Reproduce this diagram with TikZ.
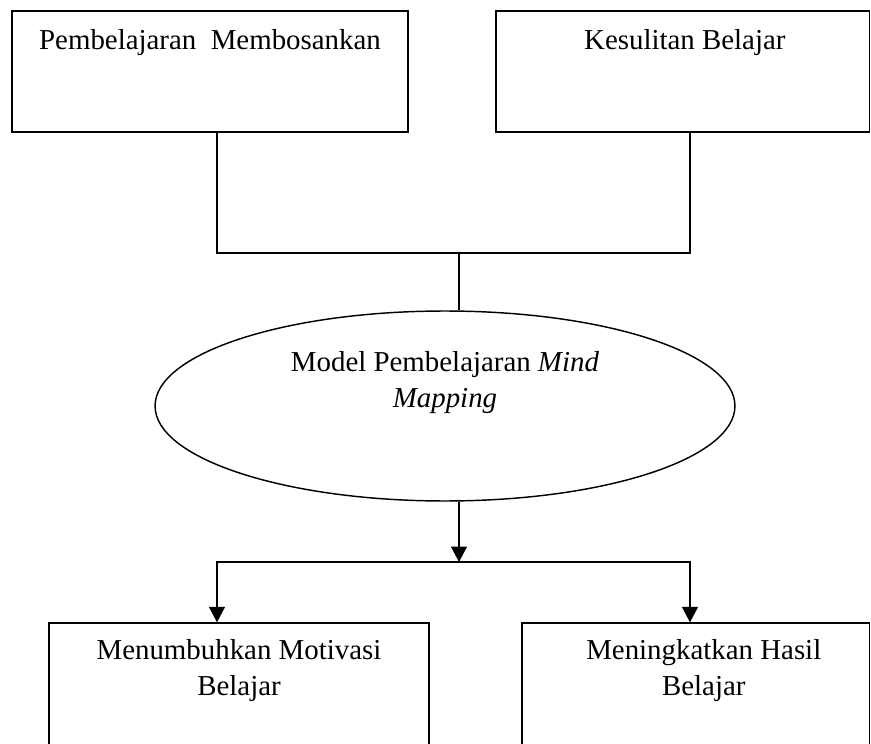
\documentclass[tikz,border=0pt]{standalone}
\usepackage{fontspec}
\setmainfont{Liberation Serif}
\usepackage{tikz}
\usetikzlibrary{arrows.meta,positioning,shapes.geometric}
\tikzstyle{kotak} = [rectangle, draw=black, line width=0.6pt, minimum height=1.767cm, inner sep=0pt]
\tikzstyle{elips} = [ellipse, draw=black, line width=0.6pt, minimum width=8.468cm, minimum height=2.774cm, inner sep=0pt]
\tikzstyle{teks}  = [align=center, inner sep=0pt, font=\fontsize{12pt}{14.9pt}\selectfont]
\tikzstyle{garis} = [black, line width=0.5pt]
\tikzstyle{panah} = [black, line width=0.6pt, -{Triangle[width=6.6pt,length=6.4pt]}]

\begin{document}
\begin{tikzpicture}[x=0.0146cm, y=-0.0146cm]
		\useasboundingbox (0,0) rectangle (871,744);

		% kotak dan elips
		\node[kotak, minimum width=5.782cm] (boring) at (210,71.5) {};
		\node[kotak, minimum width=5.453cm] (difficulty) at (682.75,71.5) {};
		\node[elips] (model) at (445,406) {};
		\node[kotak, minimum width=5.548cm, minimum height=2cm] (motivation) at (239,691.5) {};
		\node[kotak, minimum width=5.074cm, minimum height=2cm] (result) at (695.75,691.5) {};

		% teks
		\node[teks, below=0.277cm of boring.north] (tboring) {Pembelajaran\ \ Membosankan};
		\node[teks, below=0.277cm of difficulty.north, xshift=0.03cm] (tdifficulty) {Kesulitan Belajar};
		\node[teks, below=0.599cm of model.north] (tmodel) {Model Pembelajaran \textit{Mind}\\ \textit{Mapping}};
		\node[teks, below=0.248cm of motivation.north] (tmotivation) {Menumbuhkan Motivasi\\ Belajar};
		\node[teks, below=0.248cm of result.north, xshift=0.117cm] (tresult) {Meningkatkan Hasil\\ Belajar};

		% titik sambung
		\coordinate (j1) at (217,253);
		\coordinate (j2) at (690,253);
		\coordinate (j3) at (459,253);
		\coordinate (s) at (459,562);

		\draw[garis] (boring.south -| j1) -- (j1) -- (j2) -- (difficulty.south -| j2);
		\draw[garis] (j3) -- (model.north -| j3);
		\draw[panah] (model.south -| s) -- (s);
		\draw[panah] (s) -| (motivation.north -| j1);
		\draw[panah] (s) -| (result.north -| j2);
	\end{tikzpicture}
\end{document}
